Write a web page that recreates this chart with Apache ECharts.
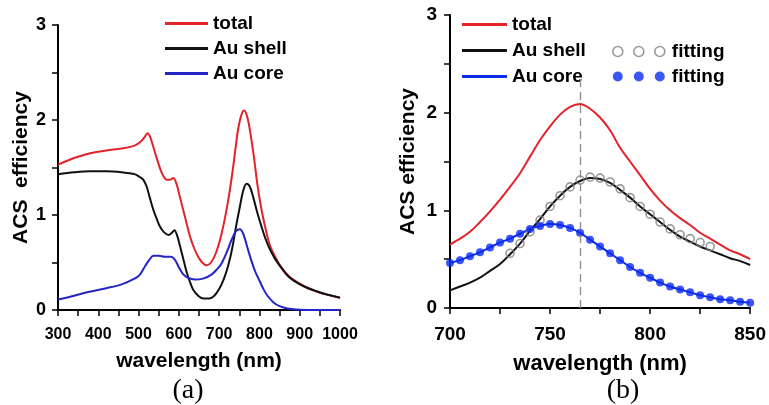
<!DOCTYPE html>
<html>
<head>
<meta charset="utf-8">
<script src="https://cdn.jsdelivr.net/npm/echarts@6/dist/echarts.min.js"></script>
<style>
html,body{margin:0;padding:0;background:#fff;}
#container{width:769px;height:405px;}
</style>
</head>
<body>
<div id="container"></div>
<script>
// panel (a): full spectrum
var totalA_nm = [300,340,380,420,458,490,505,515,522,528,535,545,555,563,570,578,586,594,602,611,620,628,638,648,658,669,680,692,703,715,725,733,740,747,755,762,770,778,786,795,805,814,826,838,851,870,884,925,960,1000];
var totalA_val = [1.53,1.60,1.65,1.68,1.70,1.73,1.77,1.82,1.86,1.83,1.74,1.60,1.47,1.40,1.37,1.37,1.39,1.33,1.20,1.05,0.90,0.77,0.65,0.56,0.50,0.47,0.50,0.60,0.75,0.98,1.22,1.45,1.68,1.90,2.05,2.10,2.03,1.85,1.62,1.32,1.06,0.88,0.68,0.57,0.47,0.37,0.32,0.22,0.17,0.13];

var shellA_nm = [300,340,380,420,458,490,503,512,520,528,537,545,553,563,574,582,589,596,603,612,620,628,636,648,661,675,688,700,712,722,732,742,752,760,768,776,785,795,805,815,827,840,855,870,885,910,940,970,1000];
var shellA_val = [1.43,1.45,1.46,1.46,1.45,1.43,1.40,1.37,1.30,1.18,1.05,0.96,0.88,0.82,0.79,0.81,0.84,0.78,0.67,0.52,0.39,0.29,0.21,0.15,0.12,0.12,0.15,0.22,0.33,0.46,0.64,0.88,1.10,1.26,1.33,1.30,1.18,1.02,0.88,0.75,0.63,0.53,0.44,0.36,0.31,0.25,0.20,0.16,0.13];

var coreA_nm = [300,340,375,420,458,490,503,516,527,537,550,565,580,590,600,610,622,640,660,680,695,706,720,731,742,751,760,770,780,790,800,810,820,835,850,870,900,950,1000];
var coreA_val = [0.11,0.15,0.19,0.23,0.27,0.33,0.37,0.46,0.53,0.57,0.57,0.56,0.56,0.53,0.45,0.38,0.34,0.32,0.33,0.37,0.43,0.49,0.62,0.74,0.83,0.85,0.80,0.66,0.52,0.40,0.31,0.22,0.15,0.08,0.04,0.015,0.003,0,0];

// panel (b): zoom on 700-850 nm, 5 nm steps
var nmB = [700,705,710,715,720,725,730,735,740,745,750,755,760,765,770,775,780,785,790,795,800,805,810,815,820,825,830,835,840,845,850];
var totalB = [0.65,0.71,0.78,0.88,0.99,1.11,1.24,1.38,1.55,1.72,1.86,1.98,2.06,2.09,2.04,1.95,1.82,1.64,1.50,1.36,1.22,1.10,1.00,0.92,0.85,0.77,0.71,0.65,0.59,0.55,0.50];
var shellB = [0.18,0.22,0.26,0.31,0.38,0.45,0.55,0.66,0.79,0.91,1.04,1.15,1.24,1.30,1.33,1.32,1.28,1.21,1.13,1.04,0.96,0.88,0.80,0.73,0.68,0.63,0.59,0.55,0.51,0.48,0.44];
var coreB = [0.46,0.49,0.53,0.57,0.62,0.67,0.71,0.76,0.81,0.84,0.86,0.85,0.82,0.77,0.70,0.63,0.56,0.49,0.42,0.36,0.31,0.26,0.22,0.19,0.16,0.13,0.11,0.09,0.08,0.065,0.055];
var shellFit_nm = [730,735,740,745,750,755,760,765,770,775,780,785,790,795,800,805,810,815,820,825,830];
var shellFit = [0.56,0.66,0.78,0.90,1.04,1.15,1.24,1.31,1.34,1.33,1.29,1.22,1.13,1.04,0.96,0.88,0.81,0.75,0.71,0.67,0.63];
var peakLine = 765;

// labelled ticks; the ticks in between are unlabelled
var xLabelStepA = 100, xLabelStepB = 50, yLabelStep = 1;

function zip(xs, ys){
	var out = [];
	for (var i = 0; i < xs.length; i++) out.push([xs[i], ys[i]]);
	return out;
}

var RED = '#e3232b', BLACK = '#111', BLUE_A = '#2424c8', BLUE_B = '#0b2cf0';
var FONT = 'Liberation Sans';

function everyNth(step){
	return function(v){
		var r = Math.round(v / step);
		return Math.abs(v - r * step) < 1e-6 ? String(Math.round(v)) : '';
	};
}

function xAxisOf(idx, min, max, step, labelSize, nameSize, gap){
	return {
		type : 'value', gridIndex : idx, min : min, max : max, interval : step / 2,
		axisLine : { show : true, onZero : false, lineStyle : { color : '#000', width : 2 } },
		axisTick : { show : true, inside : false, length : 6, lineStyle : { color : '#000', width : 1.5 } },
		splitLine : { show : false },
		axisLabel : { color : '#000', fontSize : labelSize, fontWeight : 'bold', fontFamily : FONT, margin : 17,
			showMinLabel : true, showMaxLabel : true, hideOverlap : false, formatter : everyNth(step) },
		name : 'wavelength (nm)', nameLocation : 'middle', nameGap : gap,
		nameTextStyle : { color : '#000', fontSize : nameSize, fontWeight : 'bold', fontFamily : FONT }
	};
}
function yAxisOf(idx, name, labelSize, labelMargin, gap){
	return {
		type : 'value', gridIndex : idx, min : 0, max : 3, interval : yLabelStep / 2,
		axisLine : { show : true, lineStyle : { color : '#000', width : 2 } },
		axisTick : { show : true, inside : false, length : 6, lineStyle : { color : '#000', width : 1.5 } },
		splitLine : { show : false },
		axisLabel : { color : '#000', fontSize : labelSize, fontWeight : 'bold', fontFamily : FONT, margin : labelMargin,
			formatter : everyNth(yLabelStep) },
		name : name, nameLocation : 'middle', nameGap : gap, nameRotate : 90,
		nameTextStyle : { color : '#000', fontSize : 21, fontWeight : 'bold', fontFamily : FONT }
	};
}
function lineOf(name, data, color, xi){
	return {
		name : name, type : 'line', xAxisIndex : xi, yAxisIndex : xi, data : data,
		smooth : 0.35, symbol : 'none', color : color,
		lineStyle : { color : color, width : 2 }, z : 3
	};
}

var legendText = { color : '#000', fontSize : 19, fontWeight : 'bold', fontFamily : FONT, lineHeight : 19 };
var threeDots = 'path://M0,5a5,5 0 1,0 10,0a5,5 0 1,0 -10,0M21,5a5,5 0 1,0 10,0a5,5 0 1,0 -10,0M42,5a5,5 0 1,0 10,0a5,5 0 1,0 -10,0';

var dom = document.getElementById("container");
var myChart = echarts.init(dom);
var option = {
	backgroundColor : '#fff',
	animation : false,
	grid : [
		{ left : 58, top : 25, width : 282, height : 285 },
		{ left : 450, top : 15, width : 301, height : 293 }
	],
	xAxis : [ xAxisOf(0, 300, 1000, xLabelStepA, 16, 21, 41), xAxisOf(1, 700, 850, xLabelStepB, 19, 22, 45) ],
	yAxis : [ yAxisOf(0, 'ACS  efficiency', 18, 12, 24), yAxisOf(1, 'ACS efficiency', 19, 13, 31) ],
	legend : [
		{
			orient : 'vertical', left : 160, top : 9, itemWidth : 43, itemHeight : 3, itemGap : 6,
			icon : 'rect', textStyle : legendText, selectedMode : false,
			data : [
				{ name : 'total', itemStyle : { color : RED } },
				{ name : 'Au shell', itemStyle : { color : BLACK } },
				{ name : 'Au core', itemStyle : { color : BLUE_A } }
			]
		},
		{
			orient : 'vertical', left : 457, top : 10, itemWidth : 45, itemHeight : 3, itemGap : 7,
			icon : 'rect', textStyle : legendText, selectedMode : false,
			data : [
				{ name : 'total', itemStyle : { color : RED } },
				{ name : 'Au shell', itemStyle : { color : BLACK } },
				{ name : 'Au core', itemStyle : { color : BLUE_B } }
			]
		},
		{
			orient : 'vertical', left : 607, top : 37, itemWidth : 56, itemHeight : 10, itemGap : 6,
			textStyle : legendText, selectedMode : false,
			formatter : function(){ return 'fitting'; },
			data : [
				{ name : 'fit shell', icon : threeDots, itemStyle : { color : 'rgba(0,0,0,0)', borderColor : '#808080', borderWidth : 1.6 } },
				{ name : 'fit core', icon : threeDots, itemStyle : { color : BLUE_B, borderWidth : 0 } }
			]
		}
	],
	graphic : [
		{ type : 'text', x : 188, y : 391, style : { text : '(a)', fontSize : 28, fontFamily : 'Liberation Serif', fill : '#000', align : 'center', verticalAlign : 'middle' } },
		{ type : 'text', x : 623, y : 391, style : { text : '(b)', fontSize : 28, fontFamily : 'Liberation Serif', fill : '#000', align : 'center', verticalAlign : 'middle' } }
	],
	series : [
		lineOf('total', zip(totalA_nm, totalA_val), RED, 0),
		lineOf('Au shell', zip(shellA_nm, shellA_val), BLACK, 0),
		lineOf('Au core', zip(coreA_nm, coreA_val), BLUE_A, 0),
		(function(){
			var s = lineOf('total', zip(nmB, totalB), RED, 1);
			s.markLine = {
				silent : true, symbol : 'none', label : { show : false },
				lineStyle : { color : '#8a8a8a', type : [8, 5], width : 1.3 },
				data : [ [ { coord : [peakLine, 0] }, { coord : [peakLine, 2.35] } ] ]
			};
			return s;
		})(),
		lineOf('Au shell', zip(nmB, shellB), BLACK, 1),
		lineOf('Au core', zip(nmB, coreB), BLUE_B, 1),
		{
			name : 'fit shell', type : 'scatter', xAxisIndex : 1, yAxisIndex : 1,
			data : zip(shellFit_nm, shellFit), symbol : 'circle', symbolSize : 8,
			itemStyle : { color : 'rgba(0,0,0,0)', borderColor : '#808080', borderWidth : 1.6 }, z : 4
		},
		{
			name : 'fit core', type : 'scatter', xAxisIndex : 1, yAxisIndex : 1,
			data : zip(nmB, coreB), symbol : 'circle', symbolSize : 8,
			itemStyle : { color : BLUE_B }, z : 4
		}
	]
};
if (option && typeof option === "object") {
	myChart.setOption(option, true);
}
</script>
</body>
</html>
